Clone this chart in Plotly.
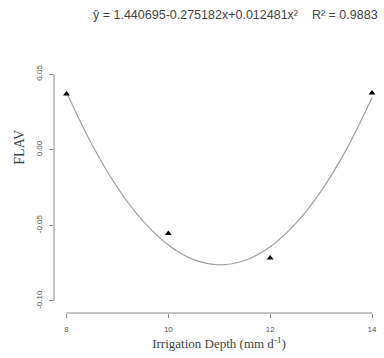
import plotly.graph_objects as go

# observed data
irrigation = [8, 10, 12, 14]
flav = [0.0368, -0.0555, -0.0716, 0.0375]

# fitted curve values
curve_x = [8, 8.5, 9, 9.5, 10, 10.5, 11, 11.5, 12, 12.5, 13, 13.5, 14]
curve_y = [0.0380, 0.0034, -0.0250, -0.0471, -0.0630, -0.0727, -0.0761,
           -0.0733, -0.0642, -0.0489, -0.0274, 0.0004, 0.0344]

x_ticks = [8, 10, 12, 14]
y_ticks = [-0.10, -0.05, 0.00, 0.05]
y_tick_labels = ["-0.10", "-0.05", "0.00", "0.05"]

equation = "ŷ = 1.440695-0.275182x+0.012481x²"
r2 = "R² = 0.9883"

axis_col = "#8a8a8a"
tick_font = dict(family="Liberation Sans, Arial", size=8, color="#555555")
serif = "Liberation Serif, Times New Roman"

fig = go.Figure()
fig.add_trace(go.Scatter(x=curve_x, y=curve_y, mode="lines",
                         line=dict(color="#a0a0a0", width=1.2, shape="spline"),
                         hoverinfo="skip", showlegend=False))
fig.add_trace(go.Scatter(x=irrigation, y=flav, mode="markers",
                         marker=dict(symbol="triangle-up", size=6, color="black"),
                         showlegend=False))

fig.update_layout(
    width=384, height=358,
    margin=dict(l=54, r=0, t=62, b=45),
    paper_bgcolor="white", plot_bgcolor="white",
    xaxis=dict(range=[7.7545, 14.2357], tickvals=x_ticks, ticktext=[str(v) for v in x_ticks],
               showgrid=False, zeroline=False, showline=False,
               ticks="outside", ticklen=4, tickcolor=axis_col, tickwidth=1,
               tickfont=tick_font, ticklabelstandoff=4,
               title=dict(text="Irrigation Depth (mm d<sup>-1</sup>)",
                          font=dict(family=serif, size=13, color="#444444"),
                          standoff=6)),
    yaxis=dict(range=[-0.108, 0.058], tickvals=y_ticks, ticktext=y_tick_labels,
               showgrid=False, zeroline=False, showline=False,
               ticks="outside", ticklen=4, tickcolor=axis_col, tickwidth=1,
               tickfont=tick_font, tickangle=-90, ticklabelstandoff=4),
    shapes=[
        dict(type="line", xref="x", yref="paper", x0=8, x1=14, y0=0, y1=0,
             line=dict(color=axis_col, width=1)),
        dict(type="line", xref="paper", yref="y", x0=0, x1=0, y0=-0.10, y1=0.05,
             line=dict(color=axis_col, width=1)),
    ],
    annotations=[
        dict(text=equation + "    " + r2, xref="paper", yref="paper",
             x=0.551, y=1.0, yshift=47, xanchor="center", yanchor="middle", showarrow=False,
             font=dict(family="Liberation Sans, Arial", size=12.5, color="#444444")),
        dict(text="FLAV", xref="paper", yref="y", x=0, y=0.0, xshift=-34, yshift=2,
             textangle=-90, xanchor="center", yanchor="middle", showarrow=False,
             font=dict(family=serif, size=14, color="#444444")),
    ],
)

fig.write_html("out.html")
